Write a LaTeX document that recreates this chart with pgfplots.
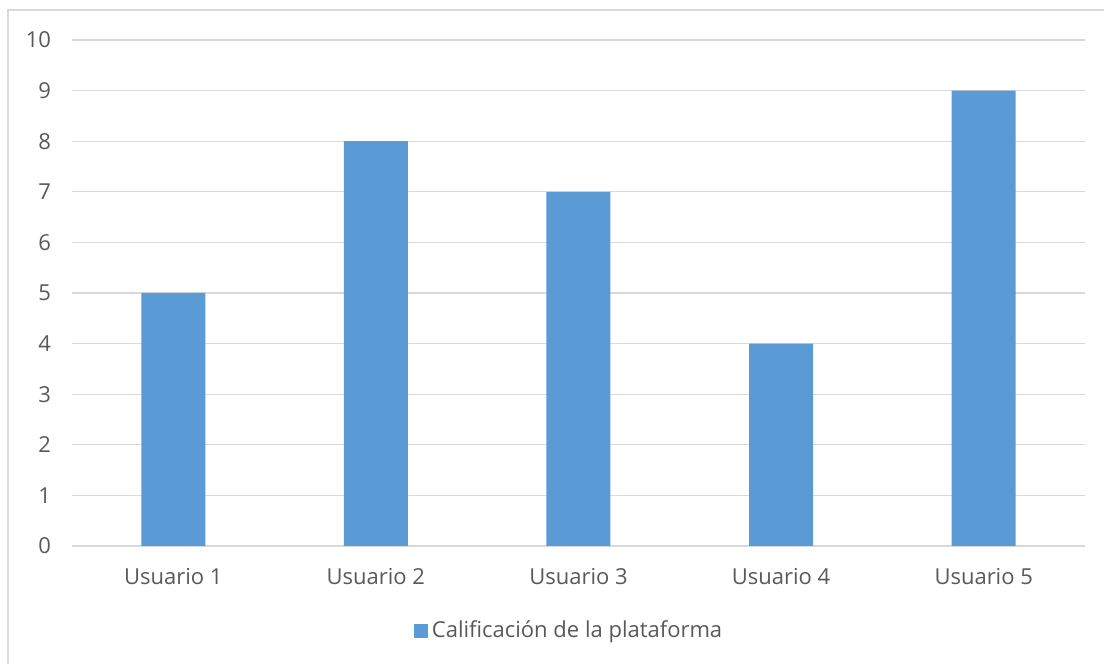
\documentclass[border=0pt]{standalone}
\usepackage{fontspec}
\setmainfont{Open Sans}
\usepackage{pgfplots}
\pgfplotsset{compat=1.18}
\definecolor{barblue}{HTML}{5B9BD5}
\definecolor{txtgray}{HTML}{595959}
\definecolor{gridgray}{HTML}{D9D9D9}
\begin{document}
\begin{tikzpicture}
\useasboundingbox (0,0) rectangle (552pt,332pt);
\draw[gridgray, line width=0.8pt] (4pt,-5pt) -- (4pt,327pt) -- (560pt,327pt);
\begin{axis}[
  at={(36pt,59pt)}, anchor=south west,
  scale only axis, width=506.5pt, height=253pt,
  ybar, bar width=32pt,
  xmin=-0.5, xmax=4.5, ymin=0, ymax=10,
  xtick=data, xticklabels={Usuario 1,Usuario 2,Usuario 3,Usuario 4,Usuario 5},
  ytick={0,1,...,10},
  ymajorgrids, grid style={gridgray, line width=0.6pt},
  axis x line*=bottom, axis y line*=left,
  x axis line style={gridgray, line width=0.8pt, -},
  y axis line style={draw=none},
  major tick length=0pt,
  ticklabel style={font=\fontsize{11}{13}\selectfont, text=txtgray},
  /pgf/number format/assume math mode=true,
  yticklabel style={xshift=-7pt},
  xticklabel style={yshift=-7.5pt},
  legend style={at={(0.4917,-0.168)}, anchor=center, draw=none, fill=none,
    font=\fontsize{11}{13}\selectfont, text=txtgray, inner sep=0pt},
  legend image code/.code={\fill[barblue] (0pt,-3.5pt) rectangle (7pt,3.5pt);},
  legend cell align=left,
]
\addplot[fill=barblue, draw=none] coordinates {(0,5) (1,8) (2,7) (3,4) (4,9)};
\addlegendentry{Calificación de la plataforma}
\end{axis}
\end{tikzpicture}
\end{document}
